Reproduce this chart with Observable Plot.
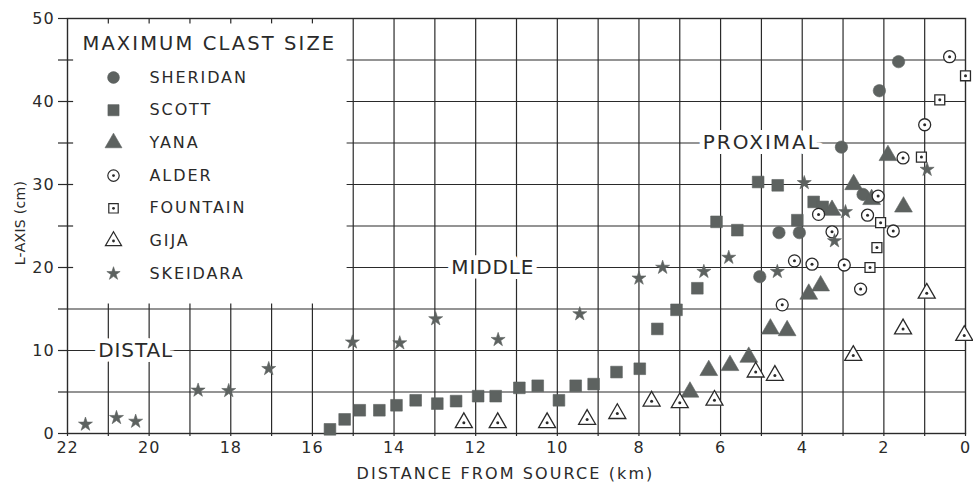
<!DOCTYPE html>
<html>
<head>
<meta charset="utf-8">
<script src="https://cdn.jsdelivr.net/npm/d3@7"></script>
<script src="https://cdn.jsdelivr.net/npm/@observablehq/plot@0.6"></script>
<style>
  html, body { margin: 0; padding: 0; background: #fff; overflow: hidden; }
  svg text { letter-spacing: 0.9px; }
</style>
</head>
<body>
<div id="chart"></div>
<script>
// ---- data (distance from source km, L-axis cm) ----
const sheridan = [[1.64,44.8],[2.11,41.3],[3.04,34.5],[2.51,28.8],[4.57,24.2],[4.07,24.2],[5.04,18.9]];
const scott = [[15.57,0.5],[15.21,1.7],[14.84,2.8],[14.36,2.8],[13.94,3.4],[13.47,4.0],[12.94,3.6],[12.48,3.9],[11.94,4.5],[11.51,4.5],[10.93,5.5],[10.48,5.75],[9.96,4.0],[9.55,5.75],[9.11,5.95],[8.55,7.4],[7.98,7.8],[7.55,12.6],[7.08,14.9],[6.57,17.5],[6.1,25.5],[5.59,24.5],[5.08,30.3],[4.6,29.9],[4.12,25.7],[3.72,27.9],[3.5,27.3]];
const yana = [[1.9,33.5],[2.74,30.0],[2.3,28.2],[1.52,27.3],[3.27,26.9],[3.55,17.8],[3.84,16.8],[4.78,12.6],[4.37,12.4],[5.31,9.2],[5.77,8.2],[6.29,7.6],[6.75,5.0]];
const alder = [[0.39,45.4],[1.0,37.2],[1.53,33.2],[2.14,28.6],[3.6,26.4],[2.4,26.3],[3.27,24.3],[1.77,24.4],[4.19,20.8],[3.76,20.4],[2.97,20.3],[2.57,17.4],[4.49,15.5]];
const fountain = [[0.0,43.1],[0.63,40.2],[1.08,33.3],[2.08,25.4],[2.17,22.4],[2.34,20.0]];
const gija = [[12.29,1.3],[11.46,1.3],[10.25,1.3],[9.27,1.7],[8.53,2.4],[7.69,3.9],[7.0,3.7],[6.15,4.0],[5.14,7.4],[4.67,7.0],[2.75,9.4],[1.53,12.6],[0.95,16.9],[0.03,11.8]];
const skeidara = [[21.56,1.1],[20.8,1.9],[20.33,1.45],[18.8,5.2],[18.05,5.15],[17.07,7.8],[15.02,11.0],[13.86,10.9],[12.98,13.8],[11.45,11.3],[9.45,14.4],[8.0,18.7],[7.42,20.0],[6.41,19.5],[5.8,21.2],[4.61,19.5],[3.95,30.2],[3.21,23.2],[2.94,26.7],[0.94,31.8]];

const seriesNames = ["SHERIDAN","SCOTT","YANA","ALDER","FOUNTAIN","GIJA","SKEIDARA"];
const seriesData = [sheridan, scott, yana, alder, fountain, gija, skeidara];

const zoneNames = ["DISTAL","MIDDLE","PROXIMAL"];
const zoneX = [20.33, 11.58, 4.99];
const zoneY = [10, 20, 35];

const xTicks = d3.range(0, 23, 1);
const yTicks = d3.range(0, 51, 5);
const legendTitle = "MAXIMUM CLAST SIZE";
const xTitle = "DISTANCE FROM SOURCE (km)";
const yTitle = "L-AXIS (cm)";

// ---- styles ----
const GRAY = "#5d6260";
const INK = "#2a2a2a";
const FONT = "DejaVu Sans";
const seriesStyle = [
  {symbol: "circle",   open: false, r: 6.2},
  {symbol: "square",   open: false, r: 6.6},
  {symbol: "triangle", open: false, r: 6.6},
  {symbol: "circle",   open: true,  r: 6.0},
  {symbol: "square",   open: true,  r: 5.6},
  {symbol: "triangle", open: true,  r: 6.3},
  {symbol: "star",     open: false, r: 4.4}
];
const legendBottom = 15.6;   // lower edge of the legend box (cm)
const legendRight = 15;      // right edge of the legend box (km)

function seriesMarks(data, st) {
  const out = [];
  if (st.open) {
    out.push(Plot.dot(data, {x: d => d[0], y: d => d[1], symbol: st.symbol, r: st.r, fill: "white", stroke: INK, strokeWidth: 1.3}));
    out.push(Plot.dot(data, {x: d => d[0], y: d => d[1], r: 1.5, fill: INK}));
  } else {
    out.push(Plot.dot(data, {x: d => d[0], y: d => d[1], symbol: st.symbol, r: st.r, fill: GRAY, stroke: GRAY, strokeWidth: 0.6}));
  }
  return out;
}

function legendMarks() {
  const out = [];
  out.push(Plot.text([legendTitle], {frameAnchor: "top-left", dx: 15, dy: 25, textAnchor: "start", lineAnchor: "middle", fontSize: 19.5, fill: INK, fontFamily: FONT}));
  seriesNames.forEach((name, i) => {
    const st = seriesStyle[i];
    const dy = 59 + 32.7 * i;
    const one = [name];
    if (st.open) {
      out.push(Plot.dot(one, {frameAnchor: "top-left", dx: 46, dy, symbol: st.symbol, r: st.r * 0.95, fill: "white", stroke: INK, strokeWidth: 1.2}));
      out.push(Plot.dot(one, {frameAnchor: "top-left", dx: 46, dy, r: 1.4, fill: INK}));
    } else {
      out.push(Plot.dot(one, {frameAnchor: "top-left", dx: 46, dy, symbol: st.symbol, r: st.r * 0.95, fill: GRAY, stroke: GRAY, strokeWidth: 0.6}));
    }
    out.push(Plot.text(one, {frameAnchor: "top-left", dx: 82, dy, textAnchor: "start", lineAnchor: "middle", fontSize: 16, fill: INK, fontFamily: FONT}));
  });
  return out;
}

const gridX_full = xTicks.filter(v => v > 0 && v <= legendRight);
const gridX_low = xTicks.filter(v => v > legendRight && v < 22);
const gridY_full = yTicks.filter(v => v > 0 && v < legendBottom);
const gridY_part = yTicks.filter(v => v > legendBottom && v < 50);

const lineStyle = {stroke: INK, strokeWidth: 1.2};

const chart = Plot.plot({
  width: 973,
  height: 484,
  marginLeft: 67,
  marginRight: 8,
  marginTop: 18,
  marginBottom: 51,
  x: {domain: [22, 0]},
  y: {domain: [0, 50]},
  style: {fontFamily: FONT, fontSize: "16px", color: INK, background: "white"},
  marks: [
    // grid
    Plot.ruleX(gridX_full, {x: d => d, y1: 0, y2: 50, ...lineStyle}),
    Plot.ruleX(gridX_low, {x: d => d, y1: 0, y2: legendBottom, ...lineStyle}),
    Plot.ruleY(gridY_full, {y: d => d, x1: 22, x2: 0, ...lineStyle}),
    Plot.ruleY(gridY_part, {y: d => d, x1: legendRight + 0.15, x2: 0, ...lineStyle}),
    // small inner ticks around legend box
    Plot.ruleX(gridX_low, {x: d => d, y1: 50, y2: 49.35, ...lineStyle}),
    Plot.ruleY(gridY_part, {y: d => d, x1: 22, x2: 21.85, ...lineStyle}),
    Plot.frame({stroke: INK, strokeWidth: 1.4}),
    // axes
    Plot.axisY({ticks: yTicks, tickSize: 9, tickPadding: 4, tickFormat: d => d % 10 ? "" : d, label: null, fontSize: 16, stroke: INK, strokeWidth: 1.2}),
    Plot.axisX({ticks: xTicks, tickSize: 3, tickPadding: 5, tickFormat: d => d % 2 ? "" : d, label: null, fontSize: 16, stroke: INK, strokeWidth: 1.2}),
    Plot.text([yTitle], {frameAnchor: "left", rotate: -90, dx: -47, dy: -3, textAnchor: "middle", lineAnchor: "middle", fontSize: 14, fill: INK}),
    Plot.text([xTitle], {frameAnchor: "bottom", dx: -11, dy: 40, textAnchor: "middle", lineAnchor: "middle", fontSize: 16, fill: INK}),
    // zone labels (white halo breaks the grid line)
    Plot.text(zoneNames, {x: (d, i) => zoneX[i], y: (d, i) => zoneY[i], text: d => d, fontSize: 20, fill: INK, stroke: "white", strokeWidth: 10, strokeLinejoin: "round"}),
    // data
    ...seriesData.flatMap((data, i) => seriesMarks(data, seriesStyle[i])),
    // legend
    ...legendMarks()
  ]
});

// per-text letter spacing
const spacing = new Map([
  [legendTitle, 2.1], [xTitle, 2.1], [yTitle, 0.3], ["PROXIMAL", 2.0],
  ...seriesNames.map(n => [n, 1.9])
]);
d3.select(chart).selectAll("text").each(function() {
  const t = this.textContent;
  if (spacing.has(t)) this.style.letterSpacing = spacing.get(t) + "px";
});

document.getElementById("chart").appendChild(chart);
</script>
</body>
</html>
